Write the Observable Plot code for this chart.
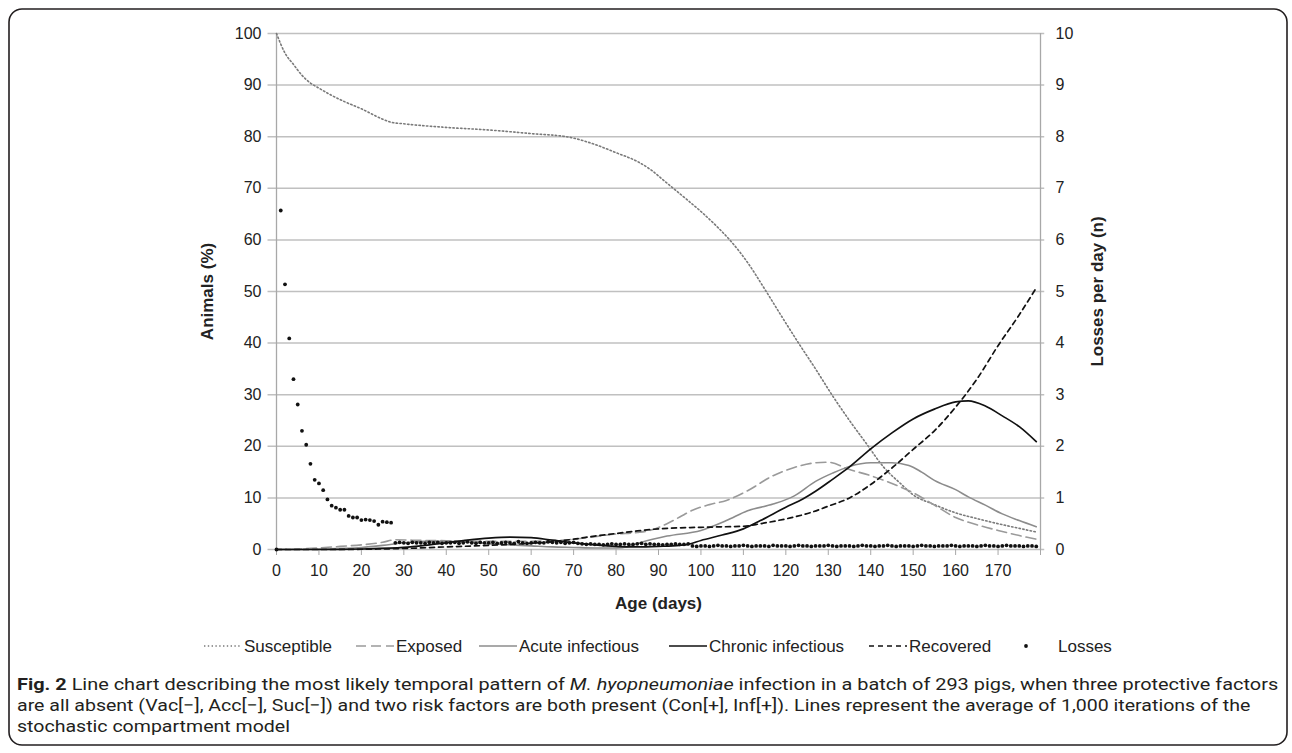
<!DOCTYPE html>
<html>
<head>
<meta charset="utf-8">
<script src="https://cdn.jsdelivr.net/npm/d3@7"></script>
<script src="https://cdn.jsdelivr.net/npm/@observablehq/plot@0.6"></script>
<style>
  html, body { margin: 0; padding: 0; background: #fff; }
  #wrap { position: relative; width: 1292px; height: 753px; overflow: hidden; background: #fff; }
  #chart { position: absolute; left: 0; top: 0; }
  #legend { position: absolute; left: 0; top: 633px; width: 1292px; height: 26px; }
  #caption { position: absolute; left: 0; top: 668px; }
  #frame { position: absolute; left: 0; top: 0; pointer-events: none; }
</style>
</head>
<body>
<div id="wrap">
  <div id="chart"></div>
  <svg id="legend" width="1292" height="26"></svg>
  <svg id="caption" width="1292" height="80"></svg>
  <svg id="frame" width="1292" height="753"></svg>
</div>
<script>
// ---------- Data ----------
const xTicks = [0,10,20,30,40,50,60,70,80,90,100,110,120,130,140,150,160,170,180];
const yTicks = [0,10,20,30,40,50,60,70,80,90,100];

const susceptibleDays = [0,2,4,6,8,10,13,16,20,25,27,30,40,50,60,69,75,80,85,88,92,97,100,104,107,111,115,119,123,127,131,135,139,143,147,150,155,160,165,170,175,179];
const susceptibleVals = [100,96.2,94,91.9,90.4,89.4,88,86.8,85.4,83.4,82.8,82.5,81.8,81.3,80.6,79.9,78.5,76.9,75.2,73.7,71,67.6,65.5,62.4,59.8,55.6,50.5,45.2,40,35,29.8,25,20.5,16,12.8,10.6,8.7,7.1,6,5,4.1,3.4];

const exposedDays = [0,5,10,15,20,25,28,32,40,50,60,65,70,75,80,85,88,92,95,98,102,106,111,117,122,127,130,135,140,145,150,155,160,165,170,175,179];
const exposedVals = [0,0.1,0.3,0.6,0.9,1.4,1.9,1.8,1.7,1.6,1.6,1.7,2,2.5,3,3.3,3.7,5,6.3,7.6,8.7,9.5,11.4,14.3,15.9,16.8,16.9,15.5,14.3,12.8,11,8.6,6.2,4.8,3.7,2.7,2];

const acuteDays = [0,10,20,25,30,35,40,45,50,55,60,65,70,75,80,83,86,92,100,106,111,117,122,127,131,135,140,145,149,152,155,160,163,167,171,175,179];
const acuteVals = [0,0.1,0.4,0.8,1.3,1.6,1.6,1.4,1.1,0.9,0.7,0.5,0.4,0.3,0.3,0.6,1.4,2.6,3.7,5.6,7.5,8.8,10.4,13.2,14.8,16.1,16.8,16.8,16.3,15,13.4,11.6,10.2,8.6,6.9,5.6,4.4];

const chronicDays = [0,10,20,30,35,40,45,50,55,60,65,70,75,80,85,90,95,97,100,105,110,114,120,124,127,131,135,140,145,150,155,160,163,167,171,175,179];
const chronicVals = [0,0,0.1,0.4,0.8,1.3,1.8,2.2,2.4,2.3,1.8,1.3,0.9,0.6,0.5,0.6,0.8,1,1.75,2.8,4,5.6,8.2,9.8,11.3,13.6,16,19.5,22.6,25.3,27.2,28.6,28.8,27.8,25.9,23.8,20.9];

const recoveredDays = [0,10,20,30,40,50,60,65,70,75,80,85,90,95,100,105,110,114,118,122,126,130,135,140,145,150,155,160,165,170,175,179];
const recoveredVals = [0,0,0.05,0.2,0.5,0.8,1.2,1.5,2,2.6,3.1,3.6,4,4.2,4.3,4.4,4.5,5,5.6,6.3,7.2,8.4,10,12.6,15.8,19.4,23,27.6,33,39.5,45.5,50.7];

// Losses per day (n), one value per day 0..179 (right axis, 0-10)
const lossesPerDay = [
  0,6.57,5.14,4.09,3.30,2.81,2.30,2.03,1.66,1.35,1.28,1.15,0.97,0.85,0.81,0.77,0.77,0.65,0.62,0.62,0.57,0.58,0.57,0.55,0.48,0.54,0.53,0.52,
  0.13,0.14,0.13,0.12,0.14,0.13,0.13,0.12,0.14,0.13,0.14,0.12,0.13,0.13,0.14,0.12,0.13,0.15,0.13,0.12,
  0.14,0.13,0.13,0.14,0.12,0.13,0.14,0.13,0.12,0.15,0.13,0.12,0.13,0.14,0.13,0.13,0.15,0.14,0.13,0.14,0.12,0.13,0.14,
  0.12,0.11,0.10,0.11,0.10,0.10,0.09,0.10,0.11,0.10,0.10,0.11,0.10,0.10,0.11,0.12,0.10,0.11,0.10,0.10,0.09,0.10,0.10,0.11,0.10,0.10,0.11,
  0.07,0.06,0.07,0.07,0.06,0.07,0.08,0.07,0.07,0.06,0.07,0.07,0.08,0.07,0.06,0.07,0.07,0.07,0.06,0.08,
  0.07,0.07,0.07,0.06,0.07,0.08,0.07,0.07,0.06,0.07,0.07,0.07,0.08,0.07,0.06,0.07,0.07,0.07,0.06,0.07,
  0.08,0.07,0.07,0.06,0.07,0.07,0.08,0.07,0.06,0.07,0.07,0.07,0.06,0.07,0.08,0.07,0.07,0.06,0.07,0.07,
  0.07,0.08,0.07,0.06,0.07,0.07,0.07,0.06,0.07,0.08,0.07,0.07,0.06,0.07,0.08,0.07,0.07,0.07,0.06,0.07,
  0.07,0.06
];

const seriesNames = ["Susceptible","Exposed","Acute infectious","Chronic infectious","Recovered","Losses"];

// ---------- Build tables ----------
const toRows = (days, vals) => days.map((d, i) => ({day: d, value: vals[i]}));
const S = toRows(susceptibleDays, susceptibleVals);
const E = toRows(exposedDays, exposedVals);
const A = toRows(acuteDays, acuteVals);
const C = toRows(chronicDays, chronicVals);
const R = toRows(recoveredDays, recoveredVals);
const L = lossesPerDay.map((v, i) => ({day: i, loss: v}));

const styles = {
  "Susceptible":        {stroke: "#7a7a7a", strokeWidth: 1.6, strokeDasharray: "1.4,2.4"},
  "Exposed":            {stroke: "#9a9a9a", strokeWidth: 1.6, strokeDasharray: "10,5"},
  "Acute infectious":   {stroke: "#8c8c8c", strokeWidth: 1.6},
  "Chronic infectious": {stroke: "#111111", strokeWidth: 1.7},
  "Recovered":          {stroke: "#111111", strokeWidth: 1.7, strokeDasharray: "5,4"}
};

const line = (data, name) => Plot.line(data, {x: "day", y: "value", curve: "monotone-x", ...styles[name]});

const chart = Plot.plot({
  width: 1292, height: 625,
  marginLeft: 276, marginRight: 252, marginTop: 33, marginBottom: 76,
  x: {domain: [0, 180]},
  y: {domain: [0, 100]},
  style: {fontFamily: "'Liberation Sans', Arial, sans-serif", fontSize: "16px", color: "#222", background: "#fff"},
  marks: [
    Plot.ruleY(yTicks, {y: d => d, x1: -2, x2: 181, stroke: "#c0c0c0", strokeWidth: 1.5}),
    Plot.ruleX([0, 180], {stroke: "#a8a8a8", strokeWidth: 1.3}),
    Plot.axisX({ticks: xTicks, tickSize: 6, tickPadding: 9, stroke: "#a8a8a8", strokeOpacity: 1, fontSize: 16,
                tickFormat: d => d === 180 ? "" : d, label: null}),
    Plot.axisY({ticks: yTicks, tickSize: 0, tickPadding: 15, fontSize: 16, label: null}),
    Plot.axisY({anchor: "right", ticks: yTicks, tickSize: 0, tickPadding: 15, fontSize: 16,
                tickFormat: d => d / 10, label: null}),
    line(S, "Susceptible"),
    line(E, "Exposed"),
    line(A, "Acute infectious"),
    line(C, "Chronic infectious"),
    line(R, "Recovered"),
    // Losses are on the right axis (0-10): plotted on the shared y scale as value × 10
    Plot.dot(L, {x: "day", y: d => d.loss * 10, r: 1.9, fill: "#111", stroke: null}),
    Plot.text(["Age (days)"], {frameAnchor: "bottom", dy: 54, fontWeight: "bold", fontSize: 17, textAnchor: "middle", lineAnchor: "middle"}),
    Plot.text(["Animals (%)"], {frameAnchor: "left", dx: -69, rotate: -90, fontWeight: "bold", fontSize: 17, textAnchor: "middle", lineAnchor: "middle"}),
    Plot.text(["Losses per day (n)"], {frameAnchor: "right", dx: 57, rotate: -90, fontWeight: "bold", fontSize: 17, textAnchor: "middle", lineAnchor: "middle"})
  ]
});
document.getElementById("chart").appendChild(chart);

// ---------- Legend ----------
const legendTextX = [244, 396, 519, 709, 909, 1058];
const leg = d3.select("#legend").attr("font-family", "'Liberation Sans', Arial, sans-serif")
  .attr("font-size", 17).attr("fill", "#222");
seriesNames.forEach((name, i) => {
  const tx = legendTextX[i];
  if (name === "Losses") {
    leg.append("circle").attr("cx", tx - 32).attr("cy", 13).attr("r", 1.9).attr("fill", "#111");
  } else {
    const st = styles[name];
    leg.append("line").attr("x1", tx - 40).attr("x2", tx - 2).attr("y1", 13).attr("y2", 13)
      .attr("stroke", st.stroke).attr("stroke-width", st.strokeWidth)
      .attr("stroke-dasharray", st.strokeDasharray || null);
  }
  leg.append("text").attr("x", tx).attr("y", 13).attr("dy", "0.35em").text(name);
});

// ---------- Caption ----------
const cap = d3.select("#caption");
const g = cap.append("g").attr("font-family", "Roboto, 'Noto Sans', sans-serif").attr("font-size", 17).attr("fill", "#231f20");
const l1 = g.append("text").attr("y", 22);
l1.append("tspan").attr("font-weight", "bold").text("Fig. 2");
l1.append("tspan").text(" Line chart describing the most likely temporal pattern of ");
l1.append("tspan").attr("font-style", "italic").text("M. hyopneumoniae");
l1.append("tspan").text(" infection in a batch of 293 pigs, when three protective factors");
const l2 = g.append("text").attr("y", 43)
  .text("are all absent (Vac[\u2212], Acc[\u2212], Suc[\u2212]) and two risk factors are both present (Con[+], Inf[+]). Lines represent the average of 1,000 iterations of the");
const l3 = g.append("text").attr("y", 64).text("stochastic compartment model");
const s1 = 1262 / l1.node().getComputedTextLength();
const s2 = 1234 / l2.node().getComputedTextLength();
l1.attr("transform", `translate(17,0) scale(${s1},1)`);
l2.attr("transform", `translate(17,0) scale(${s2},1)`);
l3.attr("transform", `translate(17,0) scale(${s2},1)`);

// ---------- Frame ----------
d3.select("#frame").append("rect")
  .attr("x", 9).attr("y", 9).attr("width", 1278).attr("height", 736).attr("rx", 13)
  .attr("fill", "none").attr("stroke", "#231f20").attr("stroke-width", 1.6);
</script>
</body>
</html>
